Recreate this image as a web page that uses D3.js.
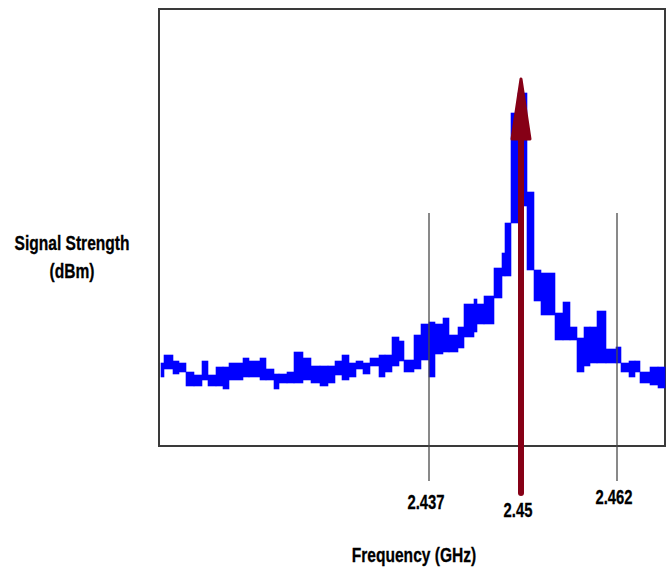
<!DOCTYPE html>
<html>
<head>
<meta charset="utf-8">
<script src="https://cdn.jsdelivr.net/npm/d3@7"></script>
<style>
  body { margin: 0; background: #fff; }
  svg { display: block; }
  .lbl { font-family: "Liberation Sans", Arial, sans-serif; font-weight: bold; fill: #000; stroke: #000; stroke-width: 0.3; }
</style>
</head>
<body>
<svg id="chart" width="670" height="569"></svg>
<script>
// Data: spectrum sweep, each column = [start sample, high dBm, low dBm]
var colStart = [2, 5, 14, 20, 27, 35, 43, 49, 57, 64, 70, 84, 90, 101, 107, 115, 120, 128, 135, 144,
                152, 161, 169, 176, 183, 190, 197, 204, 211, 220, 226, 233, 240, 245, 255, 262, 270, 276, 284, 290,
                299, 305, 315, 318, 325, 335, 343, 346, 352, 359, 368, 375, 382, 396, 404, 411, 418, 425, 431, 438,
                447, 457, 462, 470, 476, 481, 491, 499];
var colHigh = [-83.4, -81.8, -83.0, -83.4, -85.2, -85.8, -83.0, -85.8, -84.2, -84.2, -83.4, -82.4, -83.0, -82.4, -84.6, -85.6, -85.6, -85.2, -81.2, -82.4,
               -84.0, -84.0, -84.0, -83.0, -81.8, -83.4, -83.0, -83.4, -82.4, -81.8, -81.8, -78.2, -79.0, -82.8, -77.8, -75.6, -75.2, -75.6, -74.4, -77.8,
               -76.2, -71.6, -70.6, -71.6, -70.0, -64.4, -61.4, -55.4, -33.4, -29.4, -49.2, -64.8, -65.4, -73.4, -71.2, -76.2, -78.4, -76.2, -76.2, -73.0,
               -80.6, -80.2, -83.4, -83.0, -83.0, -85.2, -84.2, -84.2];
var colLow  = [-86.2, -84.6, -85.6, -85.2, -88.0, -88.0, -86.8, -88.0, -88.0, -88.6, -86.8, -86.2, -86.2, -86.8, -86.8, -88.6, -87.4, -87.4, -87.4, -86.8,
               -87.4, -88.0, -87.4, -85.8, -86.8, -86.2, -84.6, -85.6, -84.0, -86.2, -85.2, -84.0, -83.0, -85.2, -84.6, -82.8, -86.2, -81.6, -81.2, -81.2,
               -80.4, -78.2, -77.2, -75.6, -75.6, -70.4, -66.0, -66.0, -55.4, -52.0, -64.8, -71.0, -73.8, -78.8, -78.8, -78.8, -85.2, -84.0, -83.4, -83.4,
               -83.4, -83.4, -85.2, -86.2, -85.2, -87.4, -87.8, -88.4];
var sweepEnd = 506;

// channel markers
var markerLabels = ["2.437", "2.45", "2.462"];
var markerSample = [270, 362, 458];
var carrierIndex = 1;        // the 2.45 marker is the carrier arrow
var carrierLevel = -26.6;    // dBm at arrow tip

var yMin = -100, yMax = -12.6;

// Layout
var svg = d3.select("#chart");
var plot = {left: 159, top: 9, right: 665, bottom: 446};
var guideTop = 213, guideBottom = 481, arrowBottom = 493;
var labelBase = [509, 517, 504];
var narrow = 0.76; // squeeze text horizontally (narrow bold face)

var x = d3.scaleLinear().domain([0, sweepEnd]).range([plot.left, plot.right]);
var y = d3.scaleLinear().domain([yMin, yMax]).range([plot.bottom, plot.top]);

var cols = colStart.map(function(s, i) {
  return {x0: s, x1: i < colStart.length - 1 ? colStart[i + 1] : sweepEnd, hi: colHigh[i], lo: colLow[i]};
});

function label(tx, ty, size, str) {
  svg.append("text")
     .attr("class", "lbl")
     .attr("transform", "translate(" + tx + "," + ty + ") scale(" + narrow + ",1)")
     .attr("text-anchor", "middle")
     .style("font-size", size + "px")
     .text(str);
}

// frame
svg.append("rect")
   .attr("x", plot.left).attr("y", plot.top)
   .attr("width", plot.right - plot.left).attr("height", plot.bottom - plot.top)
   .attr("fill", "none").attr("stroke", "#3a3a3a").attr("stroke-width", 2);

// spectrum columns
svg.append("g").selectAll("rect")
   .data(cols)
   .enter()
   .append("rect")
   .attr("x", function(d) { return x(d.x0); })
   .attr("width", function(d) { return x(d.x1) - x(d.x0); })
   .attr("y", function(d) { return y(d.hi); })
   .attr("height", function(d) { return y(d.lo) - y(d.hi); })
   .attr("fill", "#0000ff")
   .attr("stroke", "#0000ff")
   .attr("stroke-width", 0.6);

var markers = markerLabels.map(function(l, i) { return {label: l, s: markerSample[i], base: labelBase[i], carrier: i === carrierIndex}; });

// guide lines (non-carrier markers)
svg.append("g").selectAll("line")
   .data(markers.filter(function(d) { return !d.carrier; }))
   .enter()
   .append("line")
   .attr("x1", function(d) { return x(d.s); })
   .attr("x2", function(d) { return x(d.s); })
   .attr("y1", guideTop)
   .attr("y2", guideBottom)
   .attr("stroke", "#4a4a4a")
   .attr("stroke-width", 1.3);

// carrier arrow
var cx = x(markerSample[carrierIndex]);
var tipY = y(carrierLevel);
var headBase = tipY + 60;
svg.append("line")
   .attr("x1", cx).attr("x2", cx)
   .attr("y1", headBase - 4).attr("y2", arrowBottom)
   .attr("stroke", "#860016").attr("stroke-width", 6)
   .attr("stroke-linecap", "round");
svg.append("path")
   .attr("d", d3.line()([[cx, tipY], [cx + 9, headBase], [cx - 9, headBase]]) + "Z")
   .attr("fill", "#860016")
   .attr("stroke", "#860016")
   .attr("stroke-width", 3)
   .attr("stroke-linejoin", "round");

// tick labels
markers.forEach(function(d) { label(x(d.s) - 3, d.base, 19.5, d.label); });

// axis titles
label(72, 250, 20.5, "Signal Strength");
label(72, 278, 20.5, "(dBm)");
label(414, 562, 20.5, "Frequency (GHz)");
</script>
</body>
</html>
